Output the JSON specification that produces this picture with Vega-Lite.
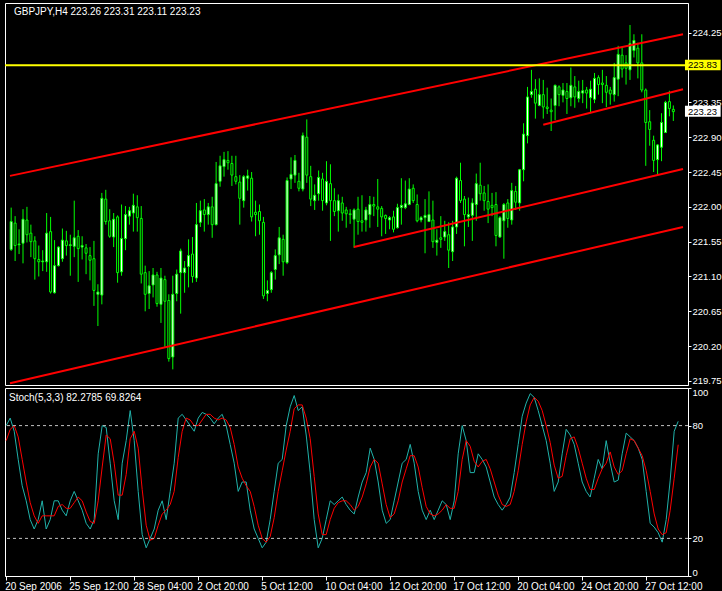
{
"$schema":"https://vega.github.io/schema/vega-lite/v6.json",
"background":"black",
"padding":{"left":3,"top":2,"right":0,"bottom":0},
"bounds":"flush",
"spacing":3,
"config":{"view":{"stroke":"white","strokeWidth":1},"font":"Liberation Sans",
"axis":{"labelColor":"white","tickColor":"white","domainColor":"white","labelFont":"Liberation Sans","labelFontSize":9.5,"grid":false,"labelFlush":false,"labelOverlap":false,"labelBound":false}},
"datasets":{
"bars":[
{"i":0,"o":221.45,"h":221.99,"l":221.43,"c":221.81,"k":80,"d":72},
{"i":1,"o":221.79,"h":221.88,"l":221.30,"c":221.50,"k":84,"d":78},
{"i":2,"o":221.51,"h":221.71,"l":221.39,"c":221.52,"k":77,"d":80},
{"i":3,"o":221.53,"h":221.97,"l":221.27,"c":221.84,"k":62,"d":74},
{"i":4,"o":221.83,"h":222.00,"l":221.54,"c":221.64,"k":48,"d":62},
{"i":5,"o":221.66,"h":221.77,"l":221.35,"c":221.55,"k":40,"d":50},
{"i":6,"o":221.56,"h":221.62,"l":221.06,"c":221.33,"k":30,"d":39},
{"i":7,"o":221.32,"h":221.50,"l":221.10,"c":221.29,"k":25,"d":32},
{"i":8,"o":221.29,"h":221.44,"l":221.17,"c":221.30,"k":30,"d":28},
{"i":9,"o":221.29,"h":221.92,"l":221.16,"c":221.66,"k":40,"d":32},
{"i":10,"o":221.68,"h":221.87,"l":220.88,"c":220.90,"k":25,"d":32},
{"i":11,"o":220.89,"h":221.57,"l":220.88,"c":221.24,"k":30,"d":32},
{"i":12,"o":221.24,"h":221.49,"l":221.23,"c":221.48,"k":40,"d":32},
{"i":13,"o":221.33,"h":221.72,"l":221.29,"c":221.57,"k":40,"d":37},
{"i":14,"o":221.56,"h":221.69,"l":221.37,"c":221.50,"k":35,"d":38},
{"i":15,"o":221.50,"h":221.64,"l":221.11,"c":221.51,"k":32,"d":36},
{"i":16,"o":221.49,"h":222.08,"l":221.35,"c":221.60,"k":40,"d":36},
{"i":17,"o":221.62,"h":221.70,"l":221.03,"c":221.46,"k":45,"d":39},
{"i":18,"o":221.48,"h":221.62,"l":221.32,"c":221.50,"k":40,"d":42},
{"i":19,"o":221.47,"h":221.52,"l":221.13,"c":221.40,"k":35,"d":40},
{"i":20,"o":221.37,"h":221.48,"l":221.05,"c":221.31,"k":28,"d":34},
{"i":21,"o":221.33,"h":221.56,"l":220.72,"c":220.92,"k":25,"d":29},
{"i":22,"o":220.87,"h":221.00,"l":220.46,"c":220.90,"k":30,"d":28},
{"i":23,"o":220.86,"h":222.18,"l":220.74,"c":222.11,"k":65,"d":40},
{"i":24,"o":222.10,"h":222.22,"l":221.77,"c":221.81,"k":80,"d":58},
{"i":25,"o":221.82,"h":221.97,"l":221.60,"c":221.62,"k":79,"d":75},
{"i":26,"o":221.61,"h":221.92,"l":221.48,"c":221.84,"k":60,"d":73},
{"i":27,"o":221.87,"h":221.89,"l":221.02,"c":221.15,"k":40,"d":60},
{"i":28,"o":221.16,"h":222.03,"l":221.11,"c":221.59,"k":30,"d":43},
{"i":29,"o":221.59,"h":222.01,"l":221.44,"c":221.90,"k":60,"d":43},
{"i":30,"o":221.88,"h":222.00,"l":221.77,"c":221.95,"k":72,"d":54},
{"i":31,"o":221.92,"h":222.17,"l":221.68,"c":222.02,"k":88,"d":73},
{"i":32,"o":222.00,"h":222.15,"l":221.68,"c":221.86,"k":72,"d":77},
{"i":33,"o":221.85,"h":222.01,"l":221.01,"c":221.13,"k":45,"d":68},
{"i":34,"o":221.15,"h":221.24,"l":220.65,"c":220.87,"k":22,"d":46},
{"i":35,"o":220.88,"h":221.17,"l":220.68,"c":220.98,"k":15,"d":27},
{"i":36,"o":220.99,"h":221.21,"l":220.83,"c":221.12,"k":20,"d":19},
{"i":37,"o":221.12,"h":221.16,"l":220.71,"c":220.75,"k":25,"d":20},
{"i":38,"o":220.74,"h":221.21,"l":220.50,"c":221.08,"k":35,"d":27},
{"i":39,"o":221.06,"h":221.11,"l":220.19,"c":220.78,"k":40,"d":33},
{"i":40,"o":220.79,"h":220.87,"l":220.00,"c":220.04,"k":30,"d":35},
{"i":41,"o":220.06,"h":221.11,"l":219.90,"c":220.87,"k":45,"d":38},
{"i":42,"o":220.88,"h":221.19,"l":220.78,"c":221.13,"k":60,"d":45},
{"i":43,"o":221.15,"h":221.46,"l":220.62,"c":221.43,"k":84,"d":63},
{"i":44,"o":221.15,"h":221.30,"l":220.89,"c":221.21,"k":86,"d":77},
{"i":45,"o":221.23,"h":221.58,"l":220.96,"c":221.37,"k":83,"d":84},
{"i":46,"o":221.39,"h":221.61,"l":221.02,"c":221.10,"k":80,"d":83},
{"i":47,"o":221.08,"h":222.05,"l":221.03,"c":221.77,"k":77,"d":80},
{"i":48,"o":221.80,"h":222.08,"l":221.74,"c":221.95,"k":84,"d":80},
{"i":49,"o":221.96,"h":222.10,"l":221.68,"c":221.90,"k":87,"d":83},
{"i":50,"o":221.90,"h":222.05,"l":221.77,"c":222.00,"k":86,"d":86},
{"i":51,"o":222.00,"h":222.13,"l":221.60,"c":221.77,"k":84,"d":86},
{"i":52,"o":221.77,"h":222.58,"l":221.76,"c":222.30,"k":81,"d":84},
{"i":53,"o":222.33,"h":222.66,"l":222.26,"c":222.53,"k":84,"d":83},
{"i":54,"o":222.52,"h":222.71,"l":222.39,"c":222.61,"k":86,"d":84},
{"i":55,"o":222.60,"h":222.72,"l":222.48,"c":222.57,"k":80,"d":83},
{"i":56,"o":222.56,"h":222.66,"l":222.27,"c":222.41,"k":70,"d":79},
{"i":57,"o":222.39,"h":222.66,"l":222.29,"c":222.33,"k":60,"d":70},
{"i":58,"o":222.32,"h":222.41,"l":221.77,"c":222.11,"k":45,"d":58},
{"i":59,"o":222.08,"h":222.41,"l":221.99,"c":222.39,"k":50,"d":52},
{"i":60,"o":222.37,"h":222.48,"l":222.21,"c":222.40,"k":50,"d":48},
{"i":61,"o":222.37,"h":222.45,"l":221.81,"c":221.87,"k":35,"d":45},
{"i":62,"o":221.93,"h":222.08,"l":221.62,"c":221.90,"k":25,"d":37},
{"i":63,"o":221.94,"h":222.03,"l":221.64,"c":221.82,"k":20,"d":27},
{"i":64,"o":221.80,"h":221.87,"l":220.81,"c":220.85,"k":15,"d":20},
{"i":65,"o":220.88,"h":221.05,"l":220.78,"c":220.92,"k":18,"d":18},
{"i":66,"o":220.93,"h":221.17,"l":220.89,"c":221.15,"k":30,"d":21},
{"i":67,"o":221.19,"h":221.45,"l":221.06,"c":221.37,"k":45,"d":31},
{"i":68,"o":221.38,"h":221.74,"l":221.26,"c":221.60,"k":60,"d":45},
{"i":69,"o":221.58,"h":221.64,"l":221.11,"c":221.29,"k":62,"d":56},
{"i":70,"o":221.28,"h":222.38,"l":221.26,"c":222.34,"k":80,"d":67},
{"i":71,"o":222.36,"h":222.64,"l":222.23,"c":222.42,"k":90,"d":77},
{"i":72,"o":222.41,"h":222.67,"l":222.31,"c":222.60,"k":96,"d":89},
{"i":73,"o":222.33,"h":222.44,"l":222.20,"c":222.24,"k":88,"d":91},
{"i":74,"o":222.23,"h":222.96,"l":222.20,"c":222.92,"k":90,"d":91},
{"i":75,"o":222.90,"h":223.13,"l":222.31,"c":222.41,"k":75,"d":84},
{"i":76,"o":222.39,"h":222.53,"l":222.01,"c":222.10,"k":55,"d":73},
{"i":77,"o":222.08,"h":222.29,"l":221.96,"c":222.15,"k":30,"d":53},
{"i":78,"o":222.17,"h":222.47,"l":222.08,"c":222.38,"k":15,"d":33},
{"i":79,"o":222.36,"h":222.44,"l":221.95,"c":222.08,"k":20,"d":22},
{"i":80,"o":222.05,"h":222.59,"l":222.02,"c":222.33,"k":30,"d":22},
{"i":81,"o":222.30,"h":222.55,"l":221.56,"c":222.08,"k":40,"d":30},
{"i":82,"o":222.08,"h":222.24,"l":221.88,"c":221.94,"k":38,"d":36},
{"i":83,"o":221.95,"h":222.16,"l":221.68,"c":222.08,"k":40,"d":39},
{"i":84,"o":222.05,"h":222.13,"l":221.82,"c":221.92,"k":42,"d":40},
{"i":85,"o":221.96,"h":222.00,"l":221.73,"c":221.91,"k":38,"d":40},
{"i":86,"o":221.91,"h":221.97,"l":221.78,"c":221.90,"k":35,"d":38},
{"i":87,"o":221.84,"h":221.98,"l":221.47,"c":221.96,"k":33,"d":35},
{"i":88,"o":221.97,"h":222.13,"l":221.64,"c":221.81,"k":42,"d":37},
{"i":89,"o":221.82,"h":222.15,"l":221.68,"c":221.80,"k":50,"d":42},
{"i":90,"o":221.83,"h":222.00,"l":221.68,"c":221.96,"k":55,"d":49},
{"i":91,"o":221.90,"h":222.14,"l":221.73,"c":222.03,"k":68,"d":58},
{"i":92,"o":222.03,"h":222.13,"l":221.88,"c":222.01,"k":62,"d":62},
{"i":93,"o":222.00,"h":222.36,"l":221.74,"c":221.97,"k":50,"d":60},
{"i":94,"o":221.98,"h":222.01,"l":221.62,"c":221.87,"k":35,"d":49},
{"i":95,"o":221.89,"h":221.90,"l":221.65,"c":221.85,"k":28,"d":38},
{"i":96,"o":221.83,"h":221.88,"l":221.71,"c":221.86,"k":30,"d":31},
{"i":97,"o":221.87,"h":221.95,"l":221.67,"c":221.71,"k":40,"d":33},
{"i":98,"o":221.73,"h":222.04,"l":221.72,"c":221.99,"k":50,"d":40},
{"i":99,"o":221.99,"h":222.37,"l":221.77,"c":222.02,"k":60,"d":50},
{"i":100,"o":221.99,"h":222.34,"l":221.97,"c":222.04,"k":62,"d":57},
{"i":101,"o":222.03,"h":222.37,"l":222.02,"c":222.23,"k":70,"d":64},
{"i":102,"o":222.24,"h":222.29,"l":222.05,"c":222.08,"k":60,"d":64},
{"i":103,"o":222.03,"h":222.16,"l":221.80,"c":221.82,"k":45,"d":58},
{"i":104,"o":221.83,"h":221.88,"l":221.80,"c":221.86,"k":35,"d":47},
{"i":105,"o":221.86,"h":222.10,"l":221.40,"c":221.89,"k":30,"d":37},
{"i":106,"o":221.81,"h":222.20,"l":221.81,"c":221.90,"k":35,"d":33},
{"i":107,"o":221.83,"h":222.08,"l":221.47,"c":221.55,"k":30,"d":32},
{"i":108,"o":221.54,"h":221.71,"l":221.37,"c":221.57,"k":35,"d":33},
{"i":109,"o":221.60,"h":221.88,"l":221.47,"c":221.58,"k":40,"d":35},
{"i":110,"o":221.61,"h":221.82,"l":221.56,"c":221.68,"k":38,"d":38},
{"i":111,"o":221.64,"h":221.80,"l":221.21,"c":221.44,"k":30,"d":36},
{"i":112,"o":221.42,"h":221.82,"l":221.30,"c":221.74,"k":40,"d":36},
{"i":113,"o":221.74,"h":222.39,"l":221.65,"c":222.37,"k":65,"d":45},
{"i":114,"o":222.34,"h":222.57,"l":222.05,"c":222.08,"k":80,"d":62},
{"i":115,"o":222.10,"h":222.14,"l":221.49,"c":221.90,"k":72,"d":72},
{"i":116,"o":221.87,"h":222.12,"l":221.74,"c":221.90,"k":55,"d":69},
{"i":117,"o":221.89,"h":222.11,"l":221.56,"c":222.05,"k":55,"d":61},
{"i":118,"o":222.03,"h":222.43,"l":221.82,"c":222.30,"k":65,"d":58},
{"i":119,"o":222.28,"h":222.57,"l":222.08,"c":222.17,"k":62,"d":61},
{"i":120,"o":222.18,"h":222.27,"l":221.95,"c":222.08,"k":58,"d":62},
{"i":121,"o":222.07,"h":222.29,"l":221.79,"c":221.97,"k":50,"d":57},
{"i":122,"o":222.02,"h":222.18,"l":221.88,"c":221.99,"k":42,"d":50},
{"i":123,"o":222.03,"h":222.19,"l":221.49,"c":221.63,"k":38,"d":43},
{"i":124,"o":221.61,"h":221.88,"l":221.60,"c":221.86,"k":35,"d":38},
{"i":125,"o":221.82,"h":222.05,"l":221.33,"c":222.03,"k":38,"d":37},
{"i":126,"o":222.05,"h":222.10,"l":221.73,"c":221.85,"k":42,"d":38},
{"i":127,"o":221.83,"h":222.31,"l":221.77,"c":222.21,"k":55,"d":45},
{"i":128,"o":222.20,"h":222.27,"l":221.96,"c":222.06,"k":70,"d":56},
{"i":129,"o":222.05,"h":222.49,"l":221.95,"c":222.48,"k":85,"d":70},
{"i":130,"o":222.48,"h":223.08,"l":222.33,"c":222.94,"k":92,"d":82},
{"i":131,"o":222.92,"h":223.55,"l":222.82,"c":223.42,"k":97,"d":91},
{"i":132,"o":223.45,"h":223.77,"l":223.41,"c":223.49,"k":95,"d":95},
{"i":133,"o":223.52,"h":223.65,"l":223.14,"c":223.34,"k":88,"d":93},
{"i":134,"o":223.31,"h":223.66,"l":223.30,"c":223.45,"k":80,"d":88},
{"i":135,"o":223.45,"h":223.64,"l":223.14,"c":223.29,"k":72,"d":80},
{"i":136,"o":223.29,"h":223.54,"l":223.20,"c":223.27,"k":60,"d":71},
{"i":137,"o":223.25,"h":223.40,"l":222.98,"c":223.23,"k":45,"d":59},
{"i":138,"o":223.31,"h":223.58,"l":223.12,"c":223.57,"k":50,"d":52},
{"i":139,"o":223.55,"h":223.57,"l":223.30,"c":223.45,"k":65,"d":53},
{"i":140,"o":223.44,"h":223.60,"l":223.35,"c":223.51,"k":78,"d":64},
{"i":141,"o":223.49,"h":223.60,"l":223.20,"c":223.40,"k":75,"d":73},
{"i":142,"o":223.41,"h":223.80,"l":223.30,"c":223.57,"k":70,"d":74},
{"i":143,"o":223.55,"h":223.69,"l":223.28,"c":223.42,"k":60,"d":68},
{"i":144,"o":223.40,"h":223.63,"l":223.35,"c":223.49,"k":50,"d":60},
{"i":145,"o":223.47,"h":223.64,"l":223.34,"c":223.50,"k":45,"d":52},
{"i":146,"o":223.51,"h":223.55,"l":223.27,"c":223.47,"k":42,"d":46},
{"i":147,"o":223.41,"h":223.63,"l":223.21,"c":223.52,"k":52,"d":46},
{"i":148,"o":223.39,"h":223.73,"l":223.34,"c":223.66,"k":62,"d":52},
{"i":149,"o":223.67,"h":223.70,"l":223.45,"c":223.58,"k":57,"d":57},
{"i":150,"o":223.60,"h":223.77,"l":223.34,"c":223.58,"k":72,"d":60},
{"i":151,"o":223.57,"h":223.69,"l":223.29,"c":223.48,"k":60,"d":66},
{"i":152,"o":223.51,"h":223.55,"l":223.32,"c":223.46,"k":50,"d":58},
{"i":153,"o":223.45,"h":223.86,"l":223.36,"c":223.67,"k":51,"d":54},
{"i":154,"o":223.65,"h":224.08,"l":223.43,"c":223.97,"k":65,"d":56},
{"i":155,"o":223.96,"h":224.06,"l":223.67,"c":223.78,"k":76,"d":65},
{"i":156,"o":223.86,"h":223.96,"l":223.58,"c":223.79,"k":74,"d":73},
{"i":157,"o":223.77,"h":224.35,"l":223.64,"c":224.11,"k":72,"d":72},
{"i":158,"o":224.02,"h":224.23,"l":223.93,"c":224.15,"k":68,"d":68},
{"i":159,"o":224.05,"h":224.12,"l":223.66,"c":223.86,"k":62,"d":64},
{"i":160,"o":223.86,"h":224.23,"l":223.48,"c":223.51,"k":45,"d":56},
{"i":161,"o":223.51,"h":223.53,"l":222.53,"c":223.09,"k":28,"d":45},
{"i":162,"o":223.10,"h":223.25,"l":222.79,"c":223.00,"k":26,"d":33},
{"i":163,"o":222.86,"h":222.92,"l":222.45,"c":222.60,"k":23,"d":25},
{"i":164,"o":222.61,"h":222.81,"l":222.42,"c":222.80,"k":18,"d":22},
{"i":165,"o":222.77,"h":223.21,"l":222.59,"c":223.09,"k":30,"d":23},
{"i":166,"o":222.96,"h":223.37,"l":222.96,"c":223.35,"k":51,"d":35},
{"i":167,"o":223.36,"h":223.50,"l":223.17,"c":223.27,"k":77,"d":52},
{"i":168,"o":223.26,"h":223.31,"l":223.11,"c":223.23,"k":82.2785,"d":69.8264}
],
"channels":[
{"line":"upper","i":-0.3,"p":222.40},{"line":"upper","i":170.45,"p":224.23},
{"line":"lower","i":-0.3,"p":219.72},{"line":"lower","i":170.45,"p":221.74},
{"line":"mid","i":86.95,"p":221.48},{"line":"mid","i":170.45,"p":222.49},
{"line":"top","i":135,"p":223.06},{"line":"top","i":170.45,"p":223.52}
]
},
"vconcat":[
{
"width":683,"height":382,
"data":{"name":"bars"},
"layer":[
{"mark":{"type":"rule","color":"#00ff00","strokeWidth":1},
"encoding":{
"x":{"field":"i","type":"quantitative","scale":{"domain":[-0.3,170.45],"nice":false,"zero":false},"axis":null},
"y":{"field":"l","type":"quantitative","scale":{"domain":[219.698,224.634],"nice":false,"zero":false},
"axis":{"orient":"right","title":null,"values":[219.75,220.2,220.65,221.1,221.55,222.0,222.45,222.9,223.35,224.25],"format":".2f","tickSize":3,"labelPadding":1}},
"y2":{"field":"h"}}},
{"mark":{"type":"bar","width":2,"stroke":"#00ff00","strokeWidth":1},
"encoding":{
"x":{"field":"i","type":"quantitative"},
"y":{"field":"o","type":"quantitative"},
"y2":{"field":"c"},
"fill":{"condition":{"test":"datum.c > datum.o","value":"white"},"value":"black"}}},
{"data":{"name":"channels"},"mark":{"type":"line","color":"#ff0000","strokeWidth":2},
"encoding":{"x":{"field":"i","type":"quantitative"},"y":{"field":"p","type":"quantitative"},"detail":{"field":"line","type":"nominal"}}},
{"data":{"values":[{"p":223.83}]},"mark":{"type":"rule","color":"#ffff00","strokeWidth":2},
"encoding":{"y":{"field":"p","type":"quantitative"}}},
{"data":{"values":[{"p":223.83}]},"mark":{"type":"rect","color":"#ffff00"},
"encoding":{"x":{"datum":170.95},"x2":{"datum":180},"y":{"datum":223.9},"y2":{"datum":223.765}}},
{"data":{"values":[{"p":223.23}]},"mark":{"type":"rect","color":"#ffffff"},
"encoding":{"x":{"datum":170.95},"x2":{"datum":180},"y":{"datum":223.305},"y2":{"datum":223.165}}},
{"data":{"values":[{"p":223.83,"t":"223.83"},{"p":223.23,"t":"223.23"}]},
"mark":{"type":"text","color":"black","align":"left","baseline":"middle","font":"Liberation Sans","fontSize":9.5,"dx":2},
"encoding":{"x":{"datum":171.2},"y":{"field":"p","type":"quantitative"},"text":{"field":"t"}}},
{"data":{"values":[{"t":"GBPJPY,H4  223.26 223.31 223.11 223.23"}]},
"mark":{"type":"text","color":"white","align":"left","baseline":"middle","font":"Liberation Sans","fontSize":10,"dx":4},
"encoding":{"x":{"datum":-0.3},"y":{"datum":224.518},"text":{"field":"t"}}}
]
},
{
"width":683,"height":188,
"data":{"name":"bars"},
"layer":[
{"mark":{"type":"line","color":"#20b2aa","strokeWidth":1},
"encoding":{
"x":{"field":"i","type":"quantitative","scale":{"domain":[-0.3,170.45],"nice":false,"zero":false},
"axis":{"title":null,"orient":"bottom","values":[0,16,32,48,64,80,96,112,128,144,160],
"labelExpr":"['20 Sep 2006','25 Sep 12:00','28 Sep 04:00','2 Oct 20:00','5 Oct 12:00','10 Oct 04:00','12 Oct 20:00','17 Oct 12:00','20 Oct 04:00','24 Oct 20:00','27 Oct 12:00'][round(datum.value/16)]",
"labelAlign":"left","labelBaseline":"top","labelOffset":-1.5,"labelPadding":1,"tickSize":4,"labelFontSize":10}},
"y":{"field":"k","type":"quantitative","scale":{"domain":[0,100],"nice":false,"zero":false},
"axis":{"orient":"right","title":null,"values":[0,20,80,100],"labelFlush":true,"labelFlushOffset":1,"tickSize":3,"labelPadding":1}}}},
{"mark":{"type":"line","color":"#ff0000","strokeWidth":1},
"encoding":{"x":{"field":"i","type":"quantitative"},"y":{"field":"d","type":"quantitative"}}},
{"data":{"values":[{"v":20},{"v":80}]},"mark":{"type":"rule","color":"#c0c0c0","strokeDash":[3,3],"strokeWidth":1},
"encoding":{"y":{"field":"v","type":"quantitative"}}},
{"data":{"values":[{"t":"Stoch(5,3,3) 82.2785 69.8264"}]},
"mark":{"type":"text","color":"white","align":"left","baseline":"middle","font":"Liberation Sans","fontSize":10,"dx":4},
"encoding":{"x":{"datum":-0.3},"y":{"datum":94.9},"text":{"field":"t"}}}
]
}
]
}
